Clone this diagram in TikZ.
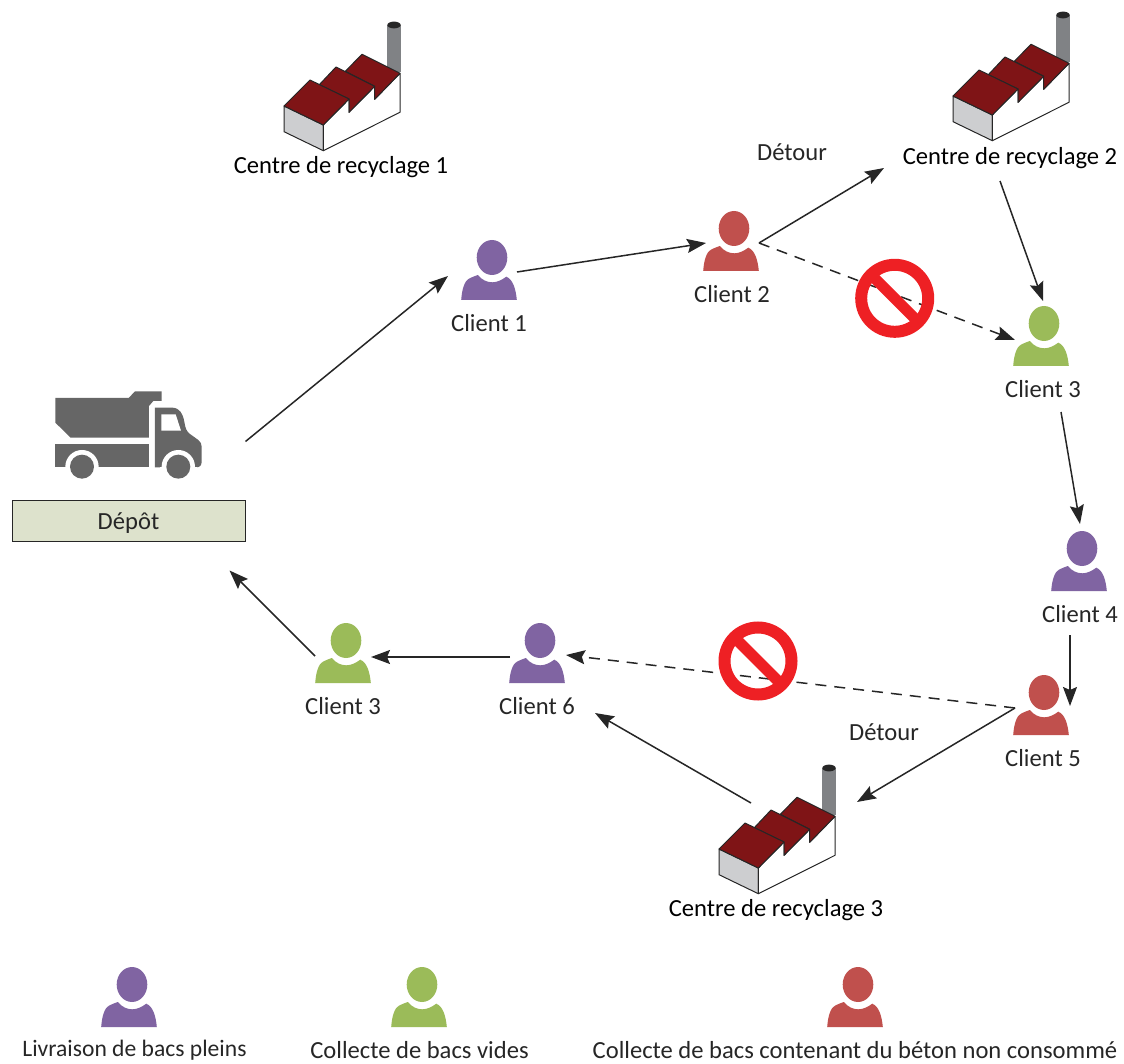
\documentclass[tikz,border=0pt]{standalone}
\usepackage{fontspec}
\setmainfont{Carlito}
\usetikzlibrary{arrows.meta,calc}
\definecolor{purp}{HTML}{8064A2}
\definecolor{gree}{HTML}{9BBB59}
\definecolor{redd}{HTML}{C0504D}
\definecolor{truckc}{HTML}{666666}
\definecolor{roofc}{HTML}{7F1416}
\definecolor{sidec}{HTML}{CDCED0}
\definecolor{ink}{HTML}{262626}
\definecolor{banc}{HTML}{EE2024}
\definecolor{depotc}{HTML}{DDE2CC}
\definecolor{chimc}{HTML}{808285}
\tikzset{
  x=1pt,y=-1pt,
  personbox/.style={minimum width=56pt,minimum height=60pt,inner sep=0pt,outer sep=0pt},
  lbl/.style={font=\fontsize{24.6}{28}\selectfont,text=ink,inner sep=0pt},
  crlbl/.style={font=\fontsize{24.6}{28}\selectfont,text=black,inner sep=0pt},
  arr/.style={line width=1.5pt,draw=ink,-{Stealth[length=19pt,width=14pt,inset=3pt]}},
  darr/.style={arr,dash pattern=on 11pt off 8pt},
  fact/.style={draw=ink,line width=1pt,line join=round},
  factbox/.style={minimum width=118pt,minimum height=130pt,inner sep=0pt,outer sep=0pt},
}
\newcommand\personicon[4]{%
  \node[personbox] (#1) at (#2,#3) {};
  \begin{scope}[shift={(#1.center)}]
    \fill[#4] (3,-12.5) ellipse [x radius=15.3,y radius=17.5];
    \fill[#4] (-27.8,30) .. controls (-27,18) and (-24,11) .. (-20.5,9)
      .. controls (-17,7) and (-14,6) .. (-11.2,5)
      .. controls (-7,10) and (-2,12.3) .. (3.2,12.3)
      .. controls (8,12.3) and (13,10) .. (17.2,6.7)
      .. controls (24,9) and (27,20) .. (27.8,30) -- cycle;
  \end{scope}}
\newcommand\factoryicon[3]{%
  \node[factbox] (#1) at ($(#2,#3)+(71,76)$) {};
  \begin{scope}[shift={(#2,#3)}]
    \fill[chimc] (117.3,15) rectangle (130.7,62);
    \fill[black!85] (124,15) ellipse [x radius=6.7,y radius=3.4];
    \draw[fact,fill=sidec] (14,96) -- (53.3,115) -- (53.3,140.7) -- (14,121.7) -- cycle;
    \draw[fact,fill=white] (53.3,115) -- (79,89) -- (79,102.3) -- (104.7,76.3) -- (104.7,89.3) -- (130,63.3) -- (130,102.3) -- (53.3,140.7) -- cycle;
    \draw[fact,fill=roofc] (75.3,61.3) -- (92,44.3) -- (130,63.3) -- (104.7,89.3) -- (104.7,76.3) -- cycle;
    \draw[fact,fill=roofc] (49.3,74.7) -- (66,57) -- (104.7,76.3) -- (79,102.3) -- (79,89) -- cycle;
    \draw[fact,fill=roofc] (14,96) -- (40,70) -- (79,89) -- (53.3,115) -- cycle;
  \end{scope}}
\newcommand\banicon[3]{%
  \node[circle,minimum size=79pt,inner sep=0pt,outer sep=0pt] (#1) at (#2,#3) {};
  \begin{scope}[shift={(#1.center)}]
    \draw[banc,line width=12pt] (0,0) circle [radius=33.5];
    \draw[banc,line width=11pt] (-23,-23) -- (23,23);
  \end{scope}}
\begin{document}
\begin{tikzpicture}
\useasboundingbox (0,0) rectangle (1124,1064);
% factories
\factoryicon{cr1}{270}{10}
\factoryicon{cr2}{939}{0}
\factoryicon{cr3}{705}{753}
\node[crlbl] (lcr1) at (341,167) {Centre de recyclage 1};
\node[crlbl] (lcr2) at (1010,158) {Centre de recyclage 2};
\node[crlbl] (lcr3) at (776,910) {Centre de recyclage 3};
% truck
\node[minimum width=147pt,minimum height=88pt,inner sep=0pt,outer sep=0pt] (truck) at (128,436) {};
\begin{scope}[shift={(40,380)},x=0.3333pt,y=-0.3333pt]
  \fill[truckc] (46,54) -- (266,54) -- (285,34) -- (365,34) -- (365,63) -- (340,63) -- (327,78) -- (327,173) -- (92,173) -- (46,128) -- cycle;
  \fill[truckc] (46,192) -- (327,192) -- (327,262) -- (46,262) -- cycle;
  \fill[truckc] (345,83) -- (398,83) .. controls (420,85) and (428,100) .. (433,125) .. controls (436,145) and (440,155) .. (450,162) -- (475,180) .. controls (482,186) and (485,192) .. (485,200) -- (485,245) .. controls (485,255) and (480,262) .. (470,262) -- (345,262) -- cycle;
  \fill[white] (364,103) -- (407,103) -- (423,152) -- (364,152) -- cycle;
  \fill[white] (126,260) circle [radius=50];
  \fill[white] (415,260) circle [radius=50];
  \fill[white] (70,262) rectangle (180,310);
  \fill[white] (360,262) rectangle (470,310);
  \fill[truckc] (126,260) circle [radius=36];
  \fill[truckc] (415,260) circle [radius=36];
\end{scope}
\node[draw=ink,line width=1pt,fill=depotc,minimum width=233pt,minimum height=41pt,inner sep=0pt,font=\fontsize{24.6}{28}\selectfont,text=ink] (depot) at (128.5,520.5) {\raisebox{-8.5pt}[0pt][0pt]{Dépôt}};
% persons
\personicon{c1}{489}{270}{purp}
\personicon{c2}{731}{241}{redd}
\personicon{c3}{1041}{336}{gree}
\personicon{c4}{1079}{561}{purp}
\personicon{c5}{1041}{705}{redd}
\personicon{c6}{537}{653}{purp}
\personicon{c7}{343}{653}{gree}
\personicon{k1}{129}{997}{purp}
\personicon{k2}{419}{997}{gree}
\personicon{k3}{855}{997}{redd}
\node[lbl] (l1) at (489,323) {Client 1};
\node[lbl] (l2) at (732,294) {Client 2};
\node[lbl] (l3) at (1043,389) {Client 3};
\node[lbl] (l4) at (1080,614) {Client 4};
\node[lbl] (l5) at (1043,758) {Client 5};
\node[lbl] (l6) at (537,706) {Client 6};
\node[lbl] (l7) at (343,706) {Client 3};
\node[lbl] (d1) at (792,152) {Détour};
\node[lbl] (d2) at (884,732) {Détour};
\node[lbl,font=\fontsize{23.6}{28}\selectfont] (t1) at (134.5,1050) {Livraison de bacs pleins};
\node[lbl] (t2) at (419.5,1050) {Collecte de bacs vides};
\node[lbl] (t3) at (855,1050) {Collecte de bacs contenant du béton non consommé};
% connectors
\draw[arr] ([shift={(0,-58)}]depot.north east) -- ([shift={(-13,6)}]c1.west);
\draw[arr] ([shift={(0,2)}]c1.east) -- ([shift={(3,2)}]c2.west);
\draw[arr] ([shift={(0,2)}]c2.east) -- ([shift={(-67,27)}]cr2.south west);
\draw[darr] ([shift={(0,2)}]c2.east) -- ([shift={(2,4)}]c3.west);
\draw[arr] ([shift={(-10,40)}]cr2.south) -- ([shift={(2,-5)}]c3.north);
\draw[arr] ([shift={(20,46)}]c3.south) -- ([shift={(1,-7)}]c4.north);
\draw[arr] ([shift={(-9,44)}]c4.south) -- ([shift={(1,1)}]c5.east);
\draw[darr] ([shift={(2,3)}]c5.west) -- ([shift={(1,2)}]c6.east);
\draw[arr] ([shift={(2,3)}]c5.west) -- ([shift={(22,38)}]cr3.north east);
\draw[arr] ([shift={(-25,39)}]cr3.north) -- ([shift={(58,30)}]c6.south);
\draw[arr] ([shift={(1,4)}]c6.west) -- ([shift={(0,4)}]c7.east);
\draw[arr] ([shift={(0,3)}]c7.west) -- ([shift={(-16,29)}]depot.south east);
% bans
\banicon{b1}{894.7}{298.3}
\banicon{b2}{758}{661}
\end{tikzpicture}
\end{document}
